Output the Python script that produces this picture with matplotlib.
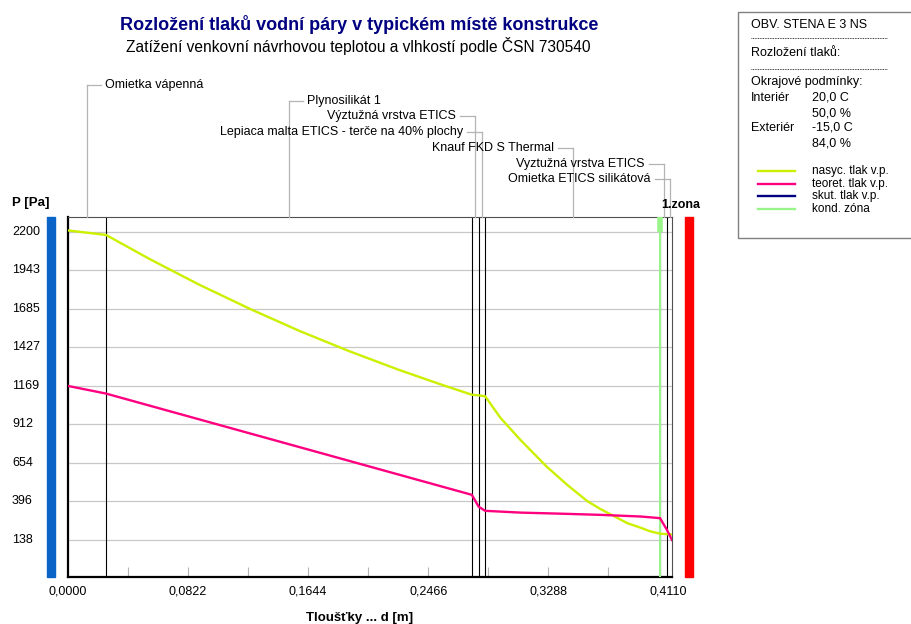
import matplotlib
matplotlib.use("Agg")
import matplotlib.pyplot as plt
import matplotlib.transforms as mtransforms
from matplotlib.patches import Rectangle

plt.rcParams['font.family'] = ['Liberation Sans', 'DejaVu Sans']

# skladba konstrukce od interieru, tloustky vrstev [m]
vrstvy = ["Omietka vápenná", "Plynosilikát 1", "Výztužná vrstva ETICS",
          "Lepiaca malta ETICS - terče na 40% plochy", "Knauf FKD S Thermal",
          "Vyztužná vrstva ETICS", "Omietka ETICS silikátová"]
tloustky = [0.026, 0.2505, 0.0046, 0.0045, 0.1197, 0.0048, 0.0034]

# nasyceny tlak vodni pary [Pa]
x_nasyc = [0.0, 0.026, 0.056, 0.090, 0.125, 0.159, 0.193, 0.227, 0.255, 0.2765,
           0.2811, 0.2856, 0.296, 0.310, 0.328, 0.342, 0.3555, 0.3645, 0.3735,
           0.383, 0.392, 0.3985, 0.4053, 0.4101, 0.4135]
p_nasyc = [2210, 2180, 2018, 1846, 1683, 1535, 1400, 1275, 1180, 1110,
           1106, 1100, 956, 805, 626, 505, 398, 345, 299,
           250, 220, 196, 180, 177, 175]

# teoreticky tlak vodni pary [Pa]
x_teoret = [0.0, 0.026, 0.2765, 0.2811, 0.2856, 0.310, 0.337, 0.3645, 0.392,
            0.4053, 0.4101, 0.4135]
p_teoret = [1169, 1118, 440, 361, 333, 321, 314, 306, 295, 284, 204, 138]

kond_zona = 0.4053

x_ticks = [0.0, 0.0822, 0.1644, 0.2466, 0.3288, 0.4110]
x_labels = ["0,0000", "0,0822", "0,1644", "0,2466", "0,3288", "0,4110"]
x_minor = [0.0411, 0.0822, 0.1233, 0.1644, 0.2055, 0.2466, 0.2877, 0.3288, 0.3699]
y_ticks = [138, 396, 654, 912, 1169, 1427, 1685, 1943, 2200]

okrajove = [("Interiér", "20,0 C", "50,0 %"), ("Exteriér", "-15,0 C", "84,0 %")]
legenda = [("nasyc. tlak v.p.", "#ccf000"), ("teoret. tlak v.p.", "#ff0080"),
           ("skut. tlak v.p.", "#000080"), ("kond. zóna", "#99f58a")]

W, H = 912, 624
fig = plt.figure(figsize=(W / 100, H / 100), dpi=100, facecolor='white')

# graf - pozice v pixelech
L, T, R, B = 68, 217, 672, 577
ax = fig.add_axes([L / W, (H - B) / H, (R - L) / W, (B - T) / H])
ax.set_xlim(0, sum(tloustky))
ax.set_ylim(-110, 2300)

ax.set_yticks(y_ticks)
ax.set_yticklabels([])
ax.tick_params(axis='y', length=0)
ax.grid(axis='y', color='#c8c8c8', linewidth=0.9)
ax.set_axisbelow(True)

ax.set_xticks(x_ticks)
ax.set_xticklabels(x_labels, fontsize=9)
ax.tick_params(axis='x', length=0, pad=6)

# kratke znacky na spodni ose
xb = mtransforms.blended_transform_factory(ax.transData, ax.transAxes)
ax.vlines(x_minor, 0, 0.027, transform=xb, color='#b4b4b4', linewidth=0.8)

ax.spines['left'].set_linewidth(1.6)
ax.spines['bottom'].set_linewidth(1.6)
for s in ['top', 'right']:
    ax.spines[s].set_color('#505050')
    ax.spines[s].set_linewidth(0.8)

# hranice vrstev
hranice = []
poz = 0.0
for t in tloustky:
    hranice.append((poz, poz + t))
    poz += t
for x0, x1 in hranice[:-1]:
    ax.axvline(x1, color='black', linewidth=0.8, zorder=2)

# kondenzacni zona
ax.axvline(kond_zona, color='#99f58a', linewidth=1.5, zorder=3)
ax.plot([kond_zona, kond_zona], [y_ticks[-1], 2300], color='#99f58a',
        linewidth=4, solid_capstyle='butt', zorder=3)

ax.plot(x_nasyc, p_nasyc, color='#ccf000', linewidth=1.7, zorder=4)
ax.plot(x_teoret, p_teoret, color='#ff0080', linewidth=1.7, zorder=4)

# popisky a dekorace v pixelovych souradnicich
deco = fig.add_axes([0, 0, 1, 1])
deco.set_xlim(0, W)
deco.set_ylim(H, 0)
deco.set_axis_off()

deco.text(359, 24, "Rozložení tlaků vodní páry v typickém místě konstrukce",
          ha='center', va='center', fontsize=13, fontweight='bold', color='#000080')
deco.text(358, 46, "Zatížení venkovní návrhovou teplotou a vlhkostí podle ČSN 730540",
          ha='center', va='center', fontsize=11.2)

deco.text(12, 203, "P [Pa]", ha='left', va='center', fontsize=9.5, fontweight='bold')
blend = mtransforms.blended_transform_factory(deco.transData, ax.transData)
for v in y_ticks:
    deco.text(12, v, str(v), transform=blend, ha='left', va='center', fontsize=9)

deco.add_patch(Rectangle((47, T), 8, B - T, color='#0a64c8'))
deco.add_patch(Rectangle((685, T), 8, B - T, color='#ff0000'))

deco.text(661, 205, "1.zona", ha='left', va='center', fontsize=9, fontweight='bold')
deco.text(360, 618, "Tloušťky ... d [m]", ha='center', va='center',
          fontsize=9.5, fontweight='bold')

# nazvy vrstev s odkazovymi carami
for i, (nazev, (x0, x1)) in enumerate(zip(vrstvy, hranice)):
    px = ax.transData.transform(((x0 + x1) / 2, 0))[0]
    py = 85 + 15.7 * i
    deco.plot([px, px], [py, T], color='#b4b4b4', linewidth=0.9)
    if i < 2:
        deco.plot([px, px + 14], [py, py], color='#b4b4b4', linewidth=0.9)
        deco.text(px + 18, py, nazev, ha='left', va='center', fontsize=9)
    else:
        deco.plot([px, px - 15], [py, py], color='#b4b4b4', linewidth=0.9)
        deco.text(px - 19, py, nazev, ha='right', va='center', fontsize=9)

# legenda
deco.text(728, -3, "LEGENDA:", ha='left', va='center', fontsize=9, color='#808080')
deco.add_patch(Rectangle((738, 12), 200, 226, facecolor='white',
                         edgecolor='#808080', linewidth=1))
deco.text(751, 25, "OBV. STENA E 3 NS", ha='left', va='center', fontsize=9)
deco.plot([751, 887], [38, 38], color='black', linewidth=0.6, linestyle=(0, (1, 1)))
deco.text(751, 53, "Rozložení tlaků:", ha='left', va='center', fontsize=9)
deco.plot([751, 887], [69, 69], color='black', linewidth=0.6, linestyle=(0, (1, 1)))
deco.text(751, 82, "Okrajové podmínky:", ha='left', va='center', fontsize=9)
for k, (misto, teplota, vlhkost) in enumerate(okrajove):
    y0 = 98 + 30 * k
    deco.text(751, y0, misto, ha='left', va='center', fontsize=9)
    deco.text(812, y0, teplota, ha='left', va='center', fontsize=9)
    deco.text(812, y0 + 15, vlhkost, ha='left', va='center', fontsize=9)
for k, (popis, barva) in enumerate(legenda):
    y0 = 171 + 12.5 * k
    deco.plot([758, 795], [y0, y0], color=barva, linewidth=1.7)
    deco.text(812, y0, popis, ha='left', va='center', fontsize=8.5)

fig.savefig("out.png", dpi=100, facecolor='white')
